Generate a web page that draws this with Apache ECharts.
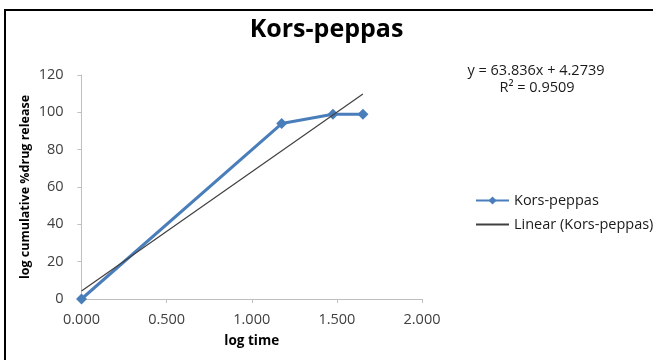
<!DOCTYPE html>
<html>
<head>
<meta charset="utf-8">
<script src="https://cdn.jsdelivr.net/npm/echarts@6/dist/echarts.min.js"></script>
<style>
html,body{margin:0;padding:0;background:#fff;}
#chart{width:653px;height:360px;}
</style>
</head>
<body>
<div id="chart"></div>
<script>
var titleText = 'Kors-peppas';
var seriesName = 'Kors-peppas';
var trendName = 'Linear (Kors-peppas)';
var logTime = [0.000, 1.176, 1.477, 1.653];
var logRelease = [0, 94, 99, 99];
var trendSlope = [63.836];
var trendIntercept = [4.2739];
var equationLines = ['y = 63.836x + 4.2739', 'R\u00B2 = 0.9509'];
var xTicks = [0, 0.5, 1.0, 1.5, 2.0];
var yTicks = [0, 20, 40, 60, 80, 100, 120];

var mainData = logTime.map(function (x, i) { return [x, logRelease[i]]; });
var xEnd = Math.max.apply(null, logTime);
var trendData = [0, xEnd].map(function (x) { return [x, trendSlope[0] * x + trendIntercept[0]]; });

var font = '"Open Sans", Lato, sans-serif';
var chart = echarts.init(document.getElementById('chart'));
chart.setOption({
  animation: false,
  backgroundColor: '#ffffff',
  title: {
    text: titleText, left: 'center', top: 12,
    textStyle: { fontFamily: font, fontSize: 25, fontWeight: 'bold', color: '#000' }
  },
  grid: { left: 81.5, right: 231, top: 75, bottom: 61 },
  xAxis: {
    type: 'value', min: xTicks[0], max: xTicks[xTicks.length - 1], interval: 0.5,
    name: 'log time', nameLocation: 'middle', nameGap: 35, nameMoveOverlap: false,
    nameTextStyle: { fontFamily: font, fontSize: 13.5, fontWeight: 'bold', color: '#000' },
    axisLine: { show: true, lineStyle: { color: '#bfbfbf', width: 1 } },
    axisTick: { show: true, length: 4, lineStyle: { color: '#bfbfbf' } },
    axisLabel: { fontFamily: font, fontSize: 14.5, color: '#404040', margin: 13,
      formatter: function (v) { return v.toFixed(3); } },
    splitLine: { show: false }
  },
  yAxis: {
    type: 'value', min: yTicks[0], max: yTicks[yTicks.length - 1], interval: 20,
    name: 'log cumulative %drug release', nameLocation: 'middle', nameGap: 50, nameMoveOverlap: false,
    nameTextStyle: { fontFamily: font, fontSize: 12.5, fontWeight: 'bold', color: '#000' },
    axisLine: { show: true, lineStyle: { color: '#bfbfbf', width: 1 } },
    axisTick: { show: true, length: 4, lineStyle: { color: '#bfbfbf' } },
    axisLabel: { fontFamily: font, fontSize: 14.5, color: '#404040', margin: 18 },
    splitLine: { show: false }
  },
  legend: {
    orient: 'vertical', left: 470, top: 188, itemGap: 9, itemWidth: 33, itemHeight: 10,
    textStyle: { fontFamily: font, fontSize: 14.5, color: '#1a1a1a' },
    data: [
      { name: seriesName },
      { name: trendName, itemStyle: { opacity: 0 } }
    ]
  },
  graphic: [
    { type: 'line', shape: { x1: 4, y1: 10, x2: 653, y2: 10 }, style: { stroke: '#000', lineWidth: 2 } },
    { type: 'line', shape: { x1: 5, y1: 10, x2: 5, y2: 360 }, style: { stroke: '#000', lineWidth: 2 } },
    { type: 'text', style: { text: equationLines[0], x: 536, y: 71, textAlign: 'center', textVerticalAlign: 'middle',
        font: '14.5px ' + font, fill: '#1a1a1a' } },
    { type: 'text', style: { text: equationLines[1], x: 537, y: 88, textAlign: 'center', textVerticalAlign: 'middle',
        font: '14.5px ' + font, fill: '#1a1a1a' } }
  ],
  series: [
    {
      name: seriesName, type: 'line', data: mainData,
      lineStyle: { color: '#4a7ebb', width: 3 },
      itemStyle: { color: '#4a7ebb' },
      symbol: 'diamond', symbolSize: 11, z: 3
    },
    {
      name: trendName, type: 'line', data: trendData,
      lineStyle: { color: '#404040', width: 1.2 },
      itemStyle: { color: '#7f7f7f' },
      symbol: 'none', z: 4
    }
  ]
});
</script>
</body>
</html>
